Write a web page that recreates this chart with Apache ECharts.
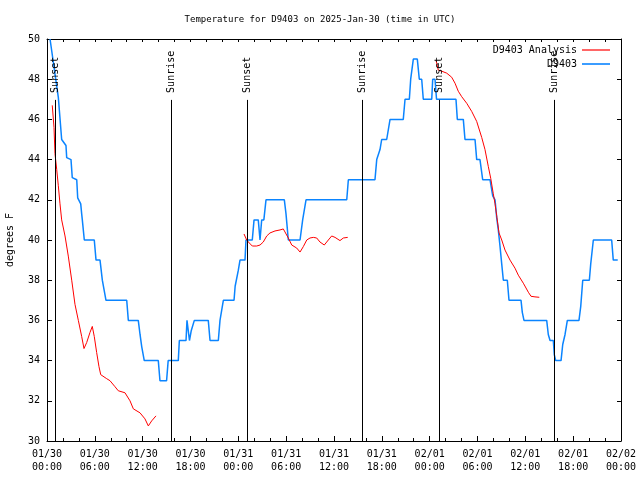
<!DOCTYPE html>
<html>
<head>
<meta charset="utf-8">
<script src="https://cdn.jsdelivr.net/npm/echarts@6/dist/echarts.min.js"></script>
<style>html,body{margin:0;padding:0;background:#fff}#c{width:640px;height:480px}</style>
</head>
<body>
<div id="c"></div>
<script>
// Hours since 2025-01-30 00:00 UTC
const tickLabels = ['01/30\n00:00','01/30\n06:00','01/30\n12:00','01/30\n18:00','01/31\n00:00','01/31\n06:00','01/31\n12:00','01/31\n18:00','02/01\n00:00','02/01\n06:00','02/01\n12:00','02/01\n18:00','02/02\n00:00'];

const sunTimes = [1.0, 15.55, 25.13, 39.55, 49.21, 63.64];
const sunLabels = ['Sunset','Sunrise','Sunset','Sunrise','Sunset','Sunrise'];

const blueObs = [[0.38,50],[1.42,47.1],[1.84,45],[2.38,44.7],[2.47,44.1],[3.01,44],[3.17,43.1],[3.73,43],[3.85,42.1],[4.23,41.8],[4.35,41.3],[4.43,41],[4.68,40],[5.93,40],[6.15,39],[6.65,39],[6.94,38],[7.19,38],[7.40,37],[10.0,37],[10.2,36],[11.45,36],[11.67,35.3],[11.88,34.7],[12.2,34],[13.96,34],[14.17,33],[15.0,33],[15.2,34],[16.47,34],[16.6,35],[17.44,35],[17.56,36],[17.75,36],[17.87,35],[18.1,35.5],[18.48,36],[20.23,36],[20.45,35],[21.49,35],[21.7,36],[22.12,37],[23.46,37],[23.6,37.7],[24.0,38.5],[24.21,39],[24.84,39],[24.96,40],[25.75,40],[25.97,41],[26.5,41],[26.72,40],[26.93,41],[27.2,41],[27.47,42],[29.77,42],[29.98,41.3],[30.27,40],[31.74,40],[32.07,41],[32.49,42],[37.6,42],[37.8,43],[41.14,43],[41.36,44],[41.77,44.5],[41.98,45],[42.61,45],[43.03,46],[44.69,46],[44.91,47],[45.45,47],[45.62,48],[45.95,49],[46.45,49],[46.7,48],[47.0,48],[47.2,47],[48.26,47],[48.38,48],[48.67,48],[48.86,47],[51.3,47],[51.47,46],[52.22,46],[52.43,45],[53.69,45],[53.9,44],[54.31,44],[54.65,43],[55.57,43],[55.78,42.5],[55.91,42.2],[56.2,42],[56.41,41.1],[56.61,40.5],[56.82,39.7],[57.04,38.8],[57.24,38],[57.74,38],[57.95,37],[59.46,37],[59.62,36.4],[59.83,36],[62.68,36],[62.88,35.3],[63.1,35],[63.51,35],[63.63,34.3],[63.81,34],[64.48,34],[64.69,34.8],[64.98,35.3],[65.27,36],[66.73,36],[66.95,36.7],[67.2,38],[68.03,38],[68.2,38.8],[68.53,40],[70.83,40],[71.03,39],[71.59,39]];

const redRun1 = [[0.66,46.7],[0.88,45.6],[1.0,44.3],[1.22,43.5],[1.42,42.7],[1.63,41.8],[1.84,41],[2.26,40.2],[2.67,39.2],[3.1,38],[3.51,36.8],[3.93,36],[4.35,35.2],[4.64,34.6],[4.98,34.9],[5.39,35.4],[5.68,35.7],[5.93,35.2],[6.23,34.4],[6.52,33.7],[6.74,33.3],[7.49,33.1],[7.9,33],[8.53,32.7],[8.94,32.5],[9.78,32.4],[10.41,32],[10.83,31.6],[11.67,31.4],[12.29,31.1],[12.71,30.75],[13.13,31],[13.67,31.25]];
const redRun2 = [[24.71,40.3],[25.05,40],[25.38,39.85],[25.75,39.7],[26.3,39.7],[26.72,39.75],[27.13,39.9],[27.56,40.2],[27.97,40.35],[28.6,40.45],[29.23,40.5],[29.64,40.55],[29.85,40.4],[30.27,40.1],[30.7,39.75],[31.32,39.6],[31.74,39.4],[32.15,39.67],[32.58,40],[32.99,40.1],[33.41,40.13],[33.83,40.1],[34.24,39.9],[34.78,39.75],[35.29,40],[35.71,40.2],[36.13,40.13],[36.75,39.97],[37.17,40.1],[37.72,40.13]];
const redRun3 = [[48.8,48.95],[49.08,48.45],[49.51,48.4],[50.14,48.3],[50.76,48.1],[51.18,47.8],[51.59,47.4],[52.02,47.13],[52.65,46.8],[53.27,46.4],[53.9,45.9],[54.53,45.1],[54.94,44.5],[55.36,43.65],[55.66,43.07],[55.98,42.3],[56.2,41.8],[56.41,41.2],[56.7,40.35],[57.04,40],[57.45,39.5],[58.08,39],[58.7,38.6],[59.12,38.25],[59.75,37.85],[60.38,37.4],[60.71,37.2],[61.21,37.17],[61.75,37.15]];

const FONT = 'DejaVu Sans Mono';
const BLUE = '#0a84ff';
const RED = '#ff0000';
const SUN_LINE_TOP = 46.97;

const chart = echarts.init(document.getElementById('c'), null, {renderer: 'canvas'});

const sunMarks = [];
sunTimes.forEach((h, i) => {
  sunMarks.push([
    {coord: [h, 30], lineStyle: {color: '#000', width: 1, type: 'solid'}, label: {show: false}},
    {coord: [h, SUN_LINE_TOP]}
  ]);
  sunMarks.push([
    {coord: [h, SUN_LINE_TOP], lineStyle: {color: 'rgba(0,0,0,0)', width: 1, type: 'solid'}, label: {show: true, formatter: sunLabels[i], position: 'insideStart', distance: 7, color: '#000', fontFamily: FONT, fontSize: 10}},
    {coord: [h, 49.9]}
  ]);
});

const tickCommon = {color: '#000', fontFamily: FONT, fontSize: 10};

const option = {
  animation: false,
  backgroundColor: '#fff',
  title: {
    text: 'Temperature for D9403 on 2025-Jan-30 (time in UTC)',
    left: 'center', top: 10,
    textStyle: {fontFamily: FONT, fontSize: 9, fontWeight: 'normal', color: '#000'}
  },
  legend: [
    {data: [{name: 'D9403 Analysis', icon: 'rect'}], right: 30, top: 45, padding: 0, orient: 'vertical', align: 'right', itemWidth: 28, itemHeight: 1.2, textStyle: tickCommon, selectedMode: false},
    {data: [{name: 'D9403', icon: 'rect'}], right: 30, top: 59, padding: 0, orient: 'vertical', align: 'right', itemWidth: 28, itemHeight: 1.6, textStyle: tickCommon, selectedMode: false}
  ],
  grid: {left: 47, right: 19, top: 39, bottom: 39, containLabel: false, outerBoundsMode: 'none'},
  xAxis: [
    {
      type: 'value', min: 0, max: 72, interval: 6, position: 'bottom',
      axisLine: {show: true, lineStyle: {color: '#000', width: 1}},
      axisTick: {show: true, inside: true, length: 5, lineStyle: {color: '#000'}},
      minorTick: {show: true, splitNumber: 3, length: 3, lineStyle: {color: '#000'}},
      splitLine: {show: false},
      axisLabel: Object.assign({margin: 7, lineHeight: 13, formatter: v => tickLabels[Math.round(v / 6)]}, tickCommon)
    },
    {
      type: 'value', min: 0, max: 72, interval: 6, position: 'top',
      axisLine: {show: true, onZero: false, lineStyle: {color: '#000', width: 1}},
      axisTick: {show: true, inside: true, length: 3, lineStyle: {color: '#000'}},
      minorTick: {show: true, splitNumber: 3, length: 3, lineStyle: {color: '#000'}},
      splitLine: {show: false},
      axisLabel: {show: false}
    }
  ],
  yAxis: [
    {
      type: 'value', min: 30, max: 50, interval: 2, position: 'left',
      name: 'degrees F', nameLocation: 'middle', nameGap: 32, nameRotate: 90,
      nameTextStyle: {color: '#000', fontFamily: FONT, fontSize: 10},
      axisLine: {show: true, lineStyle: {color: '#000', width: 1}},
      axisTick: {show: true, inside: true, length: 5, lineStyle: {color: '#000'}},
      splitLine: {show: false},
      axisLabel: Object.assign({margin: 7}, tickCommon)
    },
    {
      type: 'value', min: 30, max: 50, interval: 2, position: 'right',
      axisLine: {show: true, onZero: false, lineStyle: {color: '#000', width: 1}},
      axisTick: {show: true, inside: true, length: 4, lineStyle: {color: '#000'}},
      splitLine: {show: false},
      axisLabel: {show: false}
    }
  ],
  series: [
    {
      name: 'D9403', type: 'line', data: blueObs, showSymbol: false, symbol: 'none',
      lineStyle: {color: BLUE, width: 1.5}, itemStyle: {color: BLUE}, z: 2,
      markLine: {silent: true, symbol: ['none', 'none'], animation: false, emphasis: {disabled: true}, data: sunMarks}
    },
    {name: 'D9403 Analysis', type: 'line', data: redRun1, showSymbol: false, symbol: 'none', lineStyle: {color: RED, width: 1}, itemStyle: {color: RED}, z: 3},
    {name: 'D9403 Analysis', type: 'line', data: redRun2, showSymbol: false, symbol: 'none', lineStyle: {color: RED, width: 1}, itemStyle: {color: RED}, z: 3},
    {name: 'D9403 Analysis', type: 'line', data: redRun3, showSymbol: false, symbol: 'none', lineStyle: {color: RED, width: 1}, itemStyle: {color: RED}, z: 3}
  ]
};
chart.setOption(option);
</script>
</body>
</html>
